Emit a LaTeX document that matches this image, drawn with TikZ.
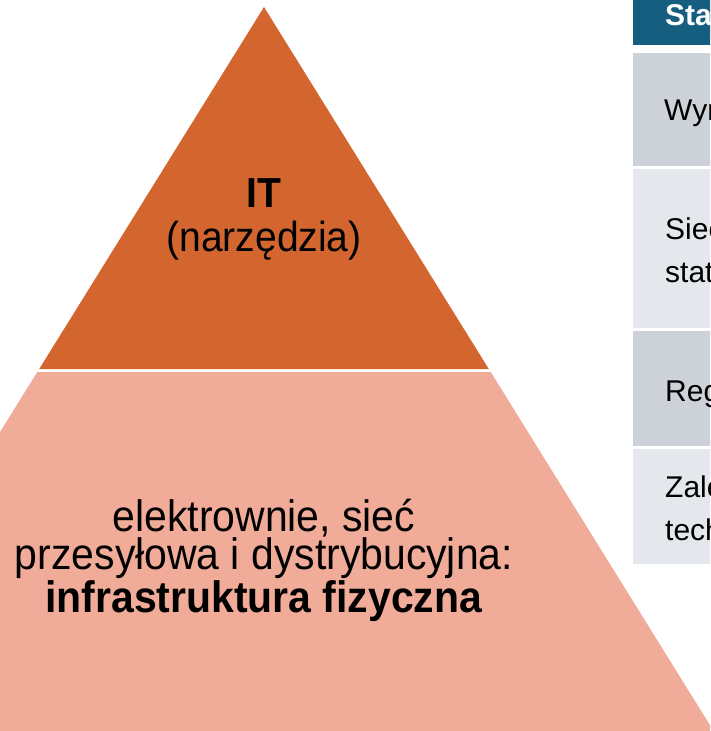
\documentclass[tikz,border=0pt]{standalone}
\usepackage{fontspec}
\setmainfont[FakeStretch=0.93]{Liberation Sans}
\newfontfamily\tabfont{Liberation Sans}
\definecolor{topc}{RGB}{211,102,46}
\definecolor{botc}{RGB}{240,172,152}
\definecolor{headc}{RGB}{22,94,128}
\definecolor{rowdark}{RGB}{205,209,216}
\definecolor{rowlight}{RGB}{228,231,235}
\tikzset{
  txt/.style={inner sep=0pt, anchor=base, text=black},
  big/.style={font=\fontsize{44}{37.5}\selectfont},
  mid/.style={font=\fontsize{42}{42}\selectfont},
  cell/.style={inner sep=0pt, anchor=base west, text=black, align=left,
    font=\tabfont\fontsize{30}{43}\selectfont},
}
\begin{document}
\begin{tikzpicture}[x=1pt,y=-1pt]
\useasboundingbox (0,0) rectangle (710,731);
\begin{scope}
\clip (0,0) rectangle (710,731);
% pyramid
\fill[topc] (264,7) -- (488.8,369) -- (39.2,369) -- cycle;
\fill[botc] (37.3,372) -- (490.7,372) -- (713.6,731) -- (-185.6,731) -- cycle;
% table
\fill[headc] (633,-2) rectangle (712,45);
\fill[rowdark] (633,53) rectangle (712,166);
\fill[rowlight] (633,169) rectangle (712,328);
\fill[rowdark] (633,331) rectangle (712,446);
\fill[rowlight] (633,449) rectangle (712,564);
% pyramid texts
\node[txt,mid] (it) at (264,207) {\textbf{IT}};
\node[txt,mid] (narz) at (264,251) {(narzędzia)};
\node[txt,big,align=center] (base) at (264,612)
  {elektrownie, sieć\\przesyłowa i dystrybucyjna:\\\textbf{infrastruktura fizyczna}};
% table texts
\node[cell,text=white] (h) at (665,25) {\textbf{Sta}};
\node[cell] (r1) at (664,120) {Wyr};
\node[cell] (r2) at (665,282) {Siec\\stat};
\node[cell] (r3) at (665,401) {Reg};
\node[cell] (r4) at (665,540) {Zale\\tech};
\end{scope}
\end{tikzpicture}
\end{document}
